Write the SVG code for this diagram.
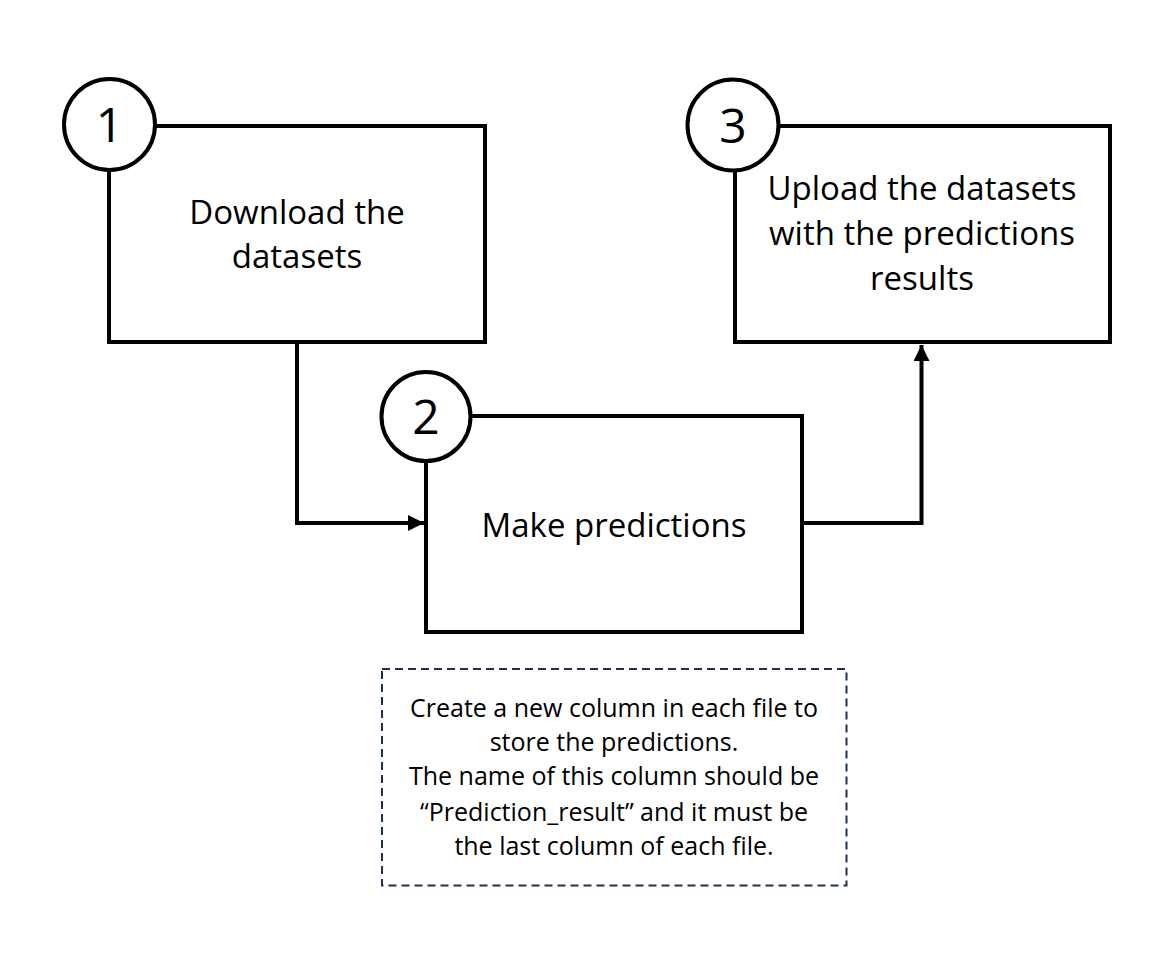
<svg xmlns="http://www.w3.org/2000/svg" width="1173" height="965" viewBox="0 0 1173 965">
<style>
.box{fill:#fff;stroke:#000;stroke-width:4}
.circ{fill:#fff;stroke:#000;stroke-width:4}
.t{font-family:"Open Sans","Noto Sans",sans-serif;font-size:33px;fill:#000;text-anchor:middle}
.num{font-family:"Open Sans","Noto Sans",sans-serif;font-size:48px;fill:#000;text-anchor:middle}
.note{font-family:"Open Sans","Noto Sans",sans-serif;font-size:25px;fill:#000;text-anchor:middle}
.conn{fill:none;stroke:#000;stroke-width:4}
</style>
<defs>
<marker id="arr" markerWidth="4" markerHeight="4" refX="4" refY="2" orient="auto" markerUnits="strokeWidth">
<path d="M0,0 L4,2 L0,4 z" fill="#000"/>
</marker>
</defs>
<rect width="1173" height="965" fill="#fff"/>
<g id="connectors">
<path class="conn" d="M297,343 L297,523 L424,523" marker-end="url(#arr)"/>
<path class="conn" d="M802,523 L921.5,523 L921.5,345" marker-end="url(#arr)"/>
</g>
<g id="node1">
<rect class="box" x="109" y="126" width="376" height="216"/>
<circle class="circ" cx="109.5" cy="124.5" r="45.5"/>
<text class="num" x="109.5" y="142">1</text>
<text class="t" x="297" y="224">Download the</text>
<text class="t" x="297" y="268">datasets</text>
</g>
<g id="node2">
<rect class="box" x="426" y="416" width="376" height="216"/>
<circle class="circ" cx="426" cy="416.5" r="44.5"/>
<text class="num" x="426" y="434">2</text>
<text class="t" x="614" y="537">Make predictions</text>
</g>
<g id="node3">
<rect class="box" x="735" y="126" width="375" height="216"/>
<circle class="circ" cx="733" cy="125" r="45.5"/>
<text class="num" x="733" y="143">3</text>
<text class="t" x="922" y="200">Upload the datasets</text>
<text class="t" x="922" y="245">with the predictions</text>
<text class="t" x="922" y="290">results</text>
</g>
<g id="note">
<rect x="382" y="669" width="464.5" height="216.5" fill="none" stroke="#1f3050" stroke-width="2" stroke-dasharray="8,5"/>
<text class="note" x="614" y="717">Create a new column in each file to</text>
<text class="note" x="614" y="751">store the predictions.</text>
<text class="note" x="614" y="785">The name of this column should be</text>
<text class="note" x="614" y="821">“Prediction_result” and it must be</text>
<text class="note" x="614" y="855">the last column of each file.</text>
</g>
</svg>
